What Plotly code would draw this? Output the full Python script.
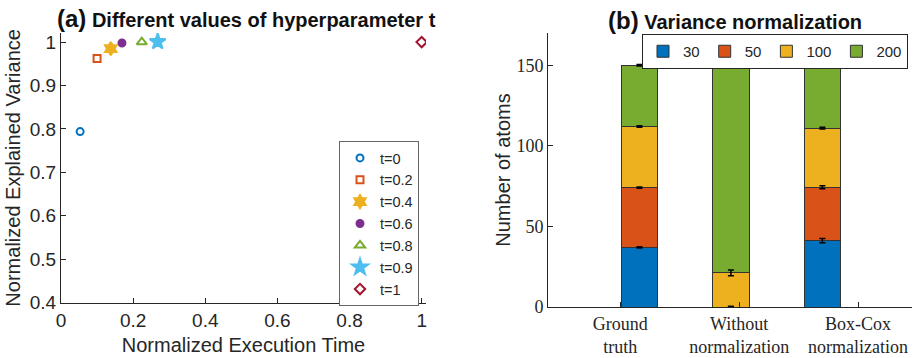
import plotly.graph_objects as go

# ---------- data: panel (a) ----------
t_labels = ["t=0", "t=0.2", "t=0.4", "t=0.6", "t=0.8", "t=0.9", "t=1"]
exec_time = [0.053, 0.100, 0.138, 0.169, 0.224, 0.268, 1.000]
expl_var = [0.794, 0.962, 0.985, 0.998, 1.000, 1.001, 1.000]

# ---------- data: panel (b) ----------
groups = ["Ground<br>truth", "Without<br>normalization", "Box-Cox<br>normalization"]
series_names = ["30", "50", "100", "200"]
vals_30 = [37.0, 0.0, 41.2]
vals_50 = [37.0, 0.0, 33.1]
vals_100 = [38.0, 21.2, 36.7]
vals_200 = [38.0, 128.8, 39.0]
err_30 = [0.4, 0.3, 1.3]
err_50 = [0.4, 0.3, 0.9]
err_100 = [0.4, 1.8, 0.5]
err_200 = [0.4, 0.3, 0.3]

# ---------- styles ----------
W, H = 915, 358
AX = "#262626"
sym_colors = ["#0072BD", "#D95319", "#EDB120", "#7E2F8E", "#77AC30", "#4DBEEE", "#A2142F"]
symbols = ["circle-open", "square-open", "hexagram", "circle", "triangle-up-open", "star", "diamond-open"]
sym_sizes = [7, 7, 10, 7, 9, 12, 8]
bar_colors = ["#0072BD", "#D95319", "#EDB120", "#77AC30"]

fig = go.Figure()

for i in range(len(t_labels)):
    fig.add_trace(go.Scatter(
        x=[exec_time[i]], y=[expl_var[i]], mode="markers", name=t_labels[i],
        marker=dict(symbol=symbols[i], color=sym_colors[i], size=sym_sizes[i],
                    line=dict(width=2, color=sym_colors[i])),
        xaxis="x", yaxis="y", legend="legend",
    ))

bar_x = [1, 2, 3]
series_vals = [vals_30, vals_50, vals_100, vals_200]
series_err = [err_30, err_50, err_100, err_200]
for k, name in enumerate(series_names):
    fig.add_trace(go.Bar(
        x=bar_x, y=series_vals[k], name=name, width=0.4,
        marker=dict(color=bar_colors[k], line=dict(color="#333333", width=1)),
        xaxis="x2", yaxis="y2", legend="legend2",
    ))

# error bars at cumulative tops
cum = [0.0, 0.0, 0.0]
for k in range(len(series_names)):
    cum = [cum[j] + series_vals[k][j] for j in range(3)]
    fig.add_trace(go.Scatter(
        x=bar_x, y=cum, mode="markers", marker=dict(size=0.1, color="black"),
        error_y=dict(type="data", array=series_err[k], color="black", thickness=1.5, width=3),
        showlegend=False, hoverinfo="skip", xaxis="x2", yaxis="y2",
    ))

sans = "Liberation Sans, Arial, sans-serif"
serif = "Liberation Serif, Times New Roman, serif"

left_x0, left_x1 = 61 / W, 426 / W
left_y0, left_y1 = 1 - 302.7 / H, 1 - 33 / H
right_x0, right_x1 = 548 / W, 912 / W
right_y0, right_y1 = 1 - 307 / H, 1 - 33 / H

fig.update_layout(
    width=W, height=H,
    margin=dict(l=0, r=0, t=0, b=0, autoexpand=False),
    paper_bgcolor="white", plot_bgcolor="white",
    barmode="stack",
    font=dict(family=sans, size=18, color=AX),
    xaxis=dict(domain=[left_x0, left_x1], range=[0, 1.012],
               tickvals=[0, 0.2, 0.4, 0.6, 0.8, 1.0],
               ticktext=["0", "0.2", "0.4", "0.6", "0.8", "1"],
               ticks="inside", ticklen=5, tickcolor=AX, showline=True, linecolor=AX,
               linewidth=1, showgrid=False, zeroline=False, mirror=False,
               tickfont=dict(family=sans, size=19, color=AX),
               title=dict(text="Normalized Execution Time", font=dict(size=20), standoff=8),
               anchor="y"),
    yaxis=dict(domain=[left_y0, left_y1], range=[0.4, 1.021],
               tickvals=[0.4, 0.5, 0.6, 0.7, 0.8, 0.9, 1.0],
               ticktext=["0.4", "0.5", "0.6", "0.7", "0.8", "0.9", "1"],
               ticks="inside", ticklen=5, tickcolor=AX, showline=True, linecolor=AX,
               linewidth=1, showgrid=False, zeroline=False,
               tickfont=dict(family=sans, size=19, color=AX),
               title=dict(text="Normalized Explained Variance", font=dict(size=20), standoff=3),
               anchor="x"),
    xaxis2=dict(domain=[right_x0, right_x1], range=[0, 3.98],
                tickvals=[0.79, 2.09, 3.39], ticktext=groups,
                ticks="inside", ticklen=5, tickcolor=AX, showline=True, linecolor=AX,
                linewidth=1, showgrid=False, zeroline=False,
                tickfont=dict(family=serif, size=18, color=AX),
                anchor="y2"),
    yaxis2=dict(domain=[right_y0, right_y1], range=[0, 170],
                tickvals=[0, 50, 100, 150],
                ticks="inside", ticklen=5, tickcolor=AX, showline=True, linecolor=AX,
                linewidth=1, showgrid=False, zeroline=False,
                tickfont=dict(family=serif, size=18, color=AX),
                title=dict(text="Number of atoms", font=dict(family=sans, size=20), standoff=0),
                anchor="x2"),
    legend=dict(x=339 / W, y=1 - 141 / H, xanchor="left", yanchor="top",
                bgcolor="white", bordercolor="#666666", borderwidth=1,
                font=dict(family=sans, size=14.5, color=AX), itemwidth=30,
                tracegroupgap=0),
    legend2=dict(orientation="h", x=908 / W, y=1 - 34 / H, xanchor="right", yanchor="top",
                 bgcolor="white", bordercolor="#262626", borderwidth=1,
                 font=dict(family=sans, size=15, color=AX), itemwidth=30,
                 traceorder="normal"),
    annotations=[
        dict(text="<b><span style='font-size:24px'>(a)</span> Different values of hyperparameter t</b>",
             x=246 / W, y=1 - 18 / H, xref="paper", yref="paper", showarrow=False,
             xanchor="center", yanchor="middle", font=dict(family=sans, size=20, color="#111111")),
        dict(text="<b><span style='font-size:24px'>(b)</span> Variance normalization</b>",
             x=735 / W, y=1 - 20 / H, xref="paper", yref="paper", showarrow=False,
             xanchor="center", yanchor="middle", font=dict(family=sans, size=20, color="#111111")),
    ],
)

fig.write_html("out.html", config={"displayModeBar": False},
               post_script="document.body.style.margin='0';")
